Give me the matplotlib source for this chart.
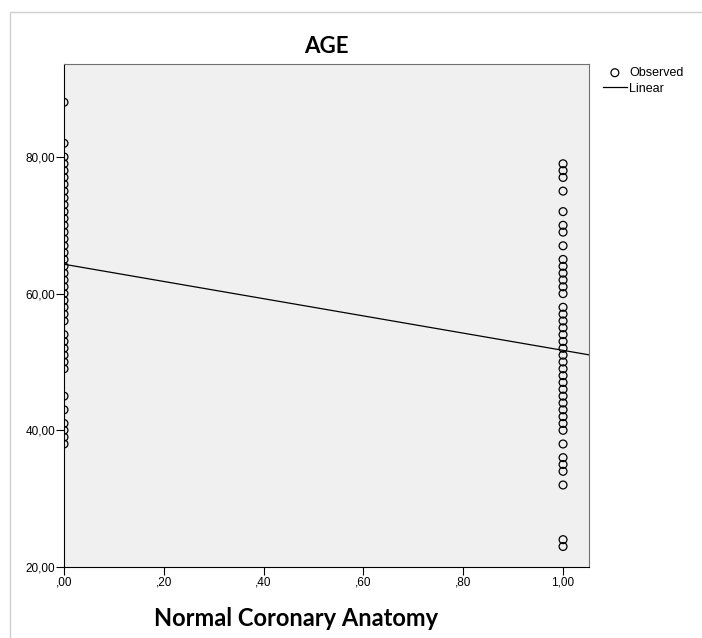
import matplotlib
matplotlib.use("Agg")
from matplotlib import pyplot as plt
from matplotlib.patches import Rectangle

# ages, one list per group
age_abnormal = [88, 82, 80, 79, 78, 77, 76, 75, 74, 73, 72, 71, 70, 69, 68, 67,
                66, 65, 64, 63, 62, 61, 60, 59, 58, 57, 56, 54, 53, 52, 51, 50,
                49, 45, 43, 41, 40, 39, 38]
age_normal = [79, 78, 77, 75, 72, 70, 69, 67, 65, 64, 63, 62, 61, 60, 58, 57,
              56, 55, 54, 53, 52, 51, 50, 49, 48, 47, 46, 45, 44, 43, 42, 41,
              40, 38, 36, 35, 34, 32, 24, 23]

# linear fit shown in the chart
intercept = 64.3
slope = -12.6
line_x = [0.0, 1.06]

x_ticks = [0.0, 0.2, 0.4, 0.6, 0.8, 1.0]
x_tick_labels = [",00", ",20", ",40", ",60", ",80", "1,00"]
y_ticks = [20, 40, 60, 80]
y_tick_labels = ["20,00", "40,00", "60,00", "80,00"]

plt.rcParams["font.family"] = ["Liberation Sans", "DejaVu Sans"]

fig = plt.figure(figsize=(7.02, 6.38), dpi=100)
fig.patches.append(Rectangle((10 / 702, -0.01), 1.0, 1 - 12 / 638 + 0.01,
                             transform=fig.transFigure, fill=False,
                             edgecolor="#d0d0d0", linewidth=1))

ax = fig.add_axes([64 / 702, 1 - 567 / 638, (589 - 64) / 702, (567 - 64) / 638])
ax.set_facecolor("#f0f0f0")

xs = [0.0] * len(age_abnormal) + [1.0] * len(age_normal)
ys = age_abnormal + age_normal
ax.scatter(xs, ys, s=32, facecolors="none", edgecolors="black",
           linewidths=0.9, label="Observed", zorder=3)
ax.plot(line_x, [intercept + slope * v for v in line_x], color="black",
        linewidth=0.9, label="Linear", zorder=2)

ax.set_xlim(0, 1.052)
ax.set_ylim(20, 93.6)
ax.set_xticks(x_ticks)
ax.set_xticklabels(x_tick_labels)
ax.set_yticks(y_ticks)
ax.set_yticklabels(y_tick_labels)
ax.tick_params(axis="both", length=5.5, width=0.8, labelsize=8.5, pad=1)

for side in ["top", "right"]:
    ax.spines[side].set_color("#707070")
for side in ["left", "bottom"]:
    ax.spines[side].set_color("black")

ax.set_title("AGE", fontsize=16, fontweight="bold", family=["Lato", "DejaVu Sans"], pad=8)
fig.text(296 / 702, 1 - 618 / 638, "Normal Coronary Anatomy", fontsize=17,
         fontweight="bold", family=["Lato", "DejaVu Sans"], ha="center", va="center")

fig.legend(loc="upper left", bbox_to_anchor=(603 / 702, 1 - 67 / 638),
           frameon=False, fontsize=9, handlelength=1.9, handletextpad=0.2,
           labelspacing=0.3, borderaxespad=0, borderpad=0)

fig.savefig("out.png", dpi=100)
